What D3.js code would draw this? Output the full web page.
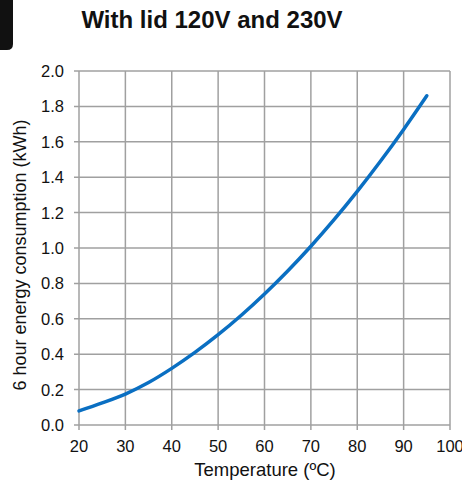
<!DOCTYPE html>
<html>
<head>
<meta charset="utf-8">
<script src="https://cdn.jsdelivr.net/npm/d3@7.9.0/dist/d3.min.js"></script>
<style>
  body { margin: 0; background: #fff; }
  text { font-family: "Liberation Sans", Arial, sans-serif; fill: #111; }
</style>
</head>
<body>
<svg id="chart" width="462" height="483"></svg>
<script>
const title = 'With lid 120V and 230V';
const xLabel = 'Temperature (ºC)';
const yLabel = '6 hour energy consumption (kWh)';

const temps = [20, 25, 30, 35, 40, 45, 50, 55, 60, 65, 70, 75, 80, 85, 90, 95];
const energy = [0.08, 0.125, 0.175, 0.24, 0.32, 0.41, 0.51, 0.62, 0.74, 0.87, 1.01, 1.16, 1.32, 1.49, 1.67, 1.86];

const xTicks = [20, 30, 40, 50, 60, 70, 80, 90, 100];
const yTicks = [0, 0.2, 0.4, 0.6, 0.8, 1.0, 1.2, 1.4, 1.6, 1.8, 2.0];

const svg = d3.select('#chart');

// dark tab at top-left corner
svg.append('path')
  .attr('d', 'M0,0 H13 V44 Q13,50 7,50 H0 Z')
  .attr('fill', '#111');

const x = d3.scaleLinear().domain([20, 100]).range([79, 450]);
const y = d3.scaleLinear().domain([0, 2]).range([425, 71]);

// grid
svg.append('g').selectAll('line').data(xTicks).join('line')
  .attr('x1', d => x(d)).attr('x2', d => x(d))
  .attr('y1', y(2)).attr('y2', y(0) + 5)
  .attr('stroke', '#a0a0a0').attr('stroke-width', 1.5);

svg.append('g').selectAll('line').data(yTicks).join('line')
  .attr('x1', x(20) - 5).attr('x2', x(100))
  .attr('y1', d => y(d)).attr('y2', d => y(d))
  .attr('stroke', '#a0a0a0').attr('stroke-width', 1.5);

// tick labels (the last x label runs off the edge, as in the original)
svg.append('g').selectAll('text').data(xTicks).join('text')
  .attr('x', d => x(d)).attr('y', y(0) + 27)
  .attr('text-anchor', 'middle')
  .attr('font-size', 16.5)
  .text(d => d);

svg.append('g').selectAll('text').data(yTicks).join('text')
  .attr('x', 64).attr('y', d => y(d) + 6)
  .attr('text-anchor', 'end')
  .attr('font-size', 16.5)
  .text(d => d.toFixed(1));

// curve
const line = d3.line()
  .x((d, i) => x(temps[i]))
  .y(d => y(d))
  .curve(d3.curveCatmullRom);

svg.append('path')
  .datum(energy)
  .attr('d', line)
  .attr('fill', 'none')
  .attr('stroke', '#0a6fc2')
  .attr('stroke-width', 3.5)
  .attr('stroke-linecap', 'round');

// labels
svg.append('text')
  .attr('x', 212).attr('y', 28)
  .attr('text-anchor', 'middle')
  .attr('font-size', 24)
  .attr('font-weight', 'bold')
  .text(title);

svg.append('text')
  .attr('x', 265).attr('y', 476)
  .attr('text-anchor', 'middle')
  .attr('font-size', 18.5)
  .text(xLabel);

svg.append('text')
  .attr('transform', 'translate(26,255) rotate(-90)')
  .attr('text-anchor', 'middle')
  .attr('font-size', 18)
  .text(yLabel);
</script>
</body>
</html>
